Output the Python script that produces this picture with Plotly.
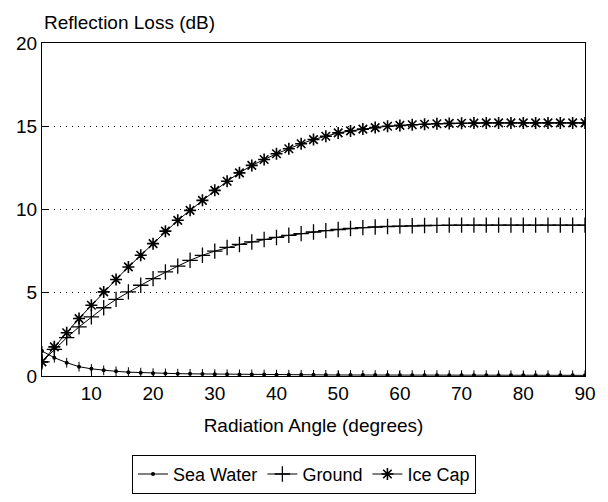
import plotly.graph_objects as go

# Radiation angle (degrees), sampled every 2 degrees
angles = list(range(2, 91, 2))

# Reflection loss (dB) per surface type
sea_water = [1.50, 1.10, 0.80, 0.56, 0.43, 0.34, 0.28, 0.23, 0.20, 0.17,
             0.15, 0.14, 0.13, 0.12, 0.11, 0.10, 0.095, 0.09, 0.085, 0.08,
             0.075, 0.07, 0.068, 0.065, 0.062, 0.06, 0.058, 0.056, 0.054, 0.052,
             0.05, 0.049, 0.048, 0.047, 0.046, 0.045, 0.044, 0.043, 0.042, 0.042,
             0.041, 0.041, 0.04, 0.04, 0.04]
ground = [0.85, 1.60, 2.30, 2.95, 3.55, 4.10, 4.60, 5.05, 5.45, 5.85,
          6.25, 6.60, 6.95, 7.25, 7.50, 7.72, 7.90, 8.05, 8.20, 8.32,
          8.45, 8.55, 8.65, 8.73, 8.80, 8.86, 8.91, 8.95, 8.98, 9.00,
          9.02, 9.04, 9.05, 9.06, 9.06, 9.06, 9.06, 9.06, 9.06, 9.06,
          9.06, 9.06, 9.06, 9.06, 9.06]
ice_cap = [0.85, 1.75, 2.60, 3.45, 4.25, 5.05, 5.80, 6.55, 7.25, 7.95,
           8.70, 9.35, 9.95, 10.55, 11.15, 11.70, 12.20, 12.65, 13.00, 13.35,
           13.65, 13.95, 14.20, 14.40, 14.60, 14.72, 14.83, 14.92, 15.00, 15.05,
           15.09, 15.12, 15.15, 15.17, 15.18, 15.19, 15.20, 15.20, 15.20, 15.20,
           15.20, 15.20, 15.20, 15.20, 15.20]

x_ticks = [10, 20, 30, 40, 50, 60, 70, 80, 90]
y_ticks = [0, 5, 10, 15, 20]

FONT = "Liberation Sans, Arial, sans-serif"

fig = go.Figure()

# small vertical ticks that sit under the sea-water dots
fig.add_trace(go.Scatter(
    x=angles, y=sea_water, mode="markers", showlegend=False, hoverinfo="skip",
    marker=dict(symbol="line-ns-open", size=7, color="black",
                line=dict(color="black", width=1)),
))
fig.add_trace(go.Scatter(
    x=angles, y=sea_water, mode="lines+markers", name="Sea Water",
    line=dict(color="black", width=1),
    marker=dict(symbol="circle", size=4, color="black"),
))
fig.add_trace(go.Scatter(
    x=angles, y=ground, mode="lines+markers", name="Ground",
    line=dict(color="black", width=1),
    marker=dict(symbol="cross-thin-open", size=11, color="black",
                line=dict(color="black", width=1.3)),
))
fig.add_trace(go.Scatter(
    x=angles, y=ice_cap, mode="lines+markers", name="Ice Cap",
    line=dict(color="black", width=1),
    marker=dict(symbol="asterisk-open", size=10, color="black",
                line=dict(color="black", width=1.6)),
))

fig.update_layout(
    width=608, height=502,
    paper_bgcolor="white", plot_bgcolor="white",
    margin=dict(l=42, r=15, t=43, b=126),
    font=dict(family=FONT, size=19, color="black"),
    showlegend=True,
    legend=dict(
        orientation="h",
        xref="container", yref="container",
        x=0.5, xanchor="center", y=0.094, yanchor="top",
        bordercolor="black", borderwidth=1, bgcolor="white",
        font=dict(family=FONT, size=18, color="black"),
        itemwidth=30, tracegroupgap=0,
    ),
    xaxis=dict(
        range=[2, 90], tickvals=x_ticks, ticks="inside", ticklen=5,
        tickcolor="black", showline=True, linecolor="black", linewidth=1,
        mirror=True, showgrid=False, zeroline=False,
        title=dict(text="Radiation Angle (degrees)", standoff=15,
                   font=dict(family=FONT, size=19)),
        tickfont=dict(family=FONT, size=19),
    ),
    yaxis=dict(
        range=[0, 20], tickvals=y_ticks, ticks="inside", ticklen=6,
        tickcolor="black", showline=True, linecolor="black", linewidth=1,
        mirror=True, showgrid=True, gridcolor="black", gridwidth=1,
        griddash="1px,5px", zeroline=False,
        tickfont=dict(family=FONT, size=19),
    ),
    annotations=[dict(
        text="Reflection Loss (dB)", xref="paper", yref="paper",
        x=0, y=1, xanchor="left", yanchor="bottom", yshift=8,
        showarrow=False, font=dict(family=FONT, size=19, color="black"),
    )],
)

fig.write_html("out.html")
